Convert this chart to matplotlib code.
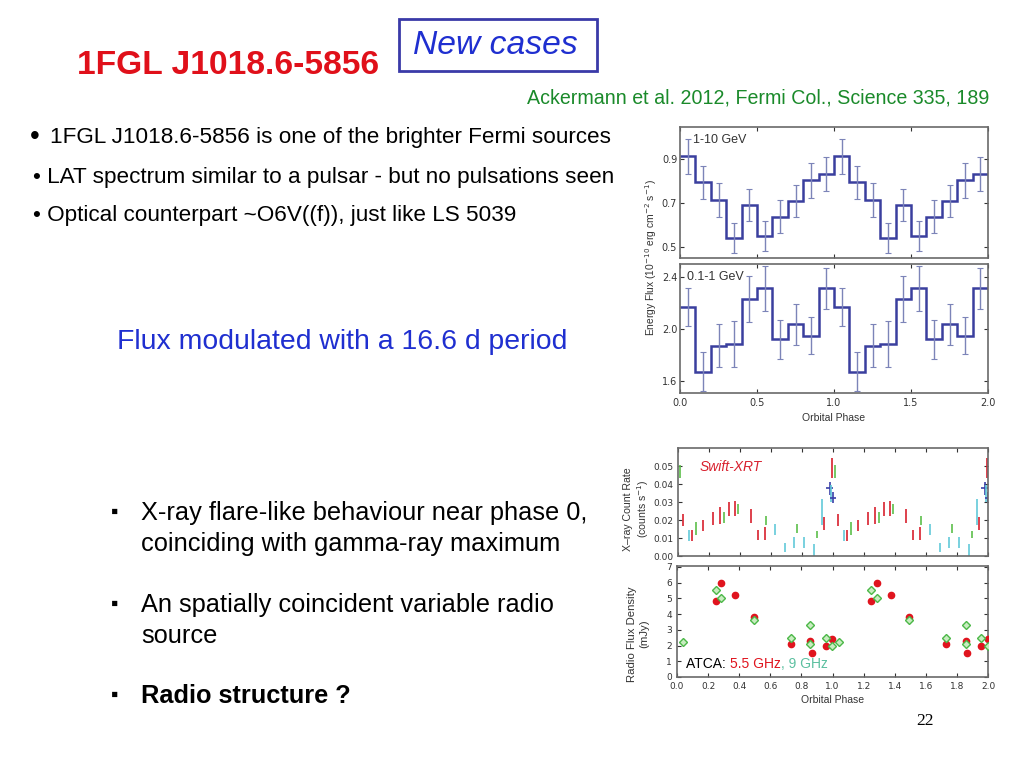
import numpy as np
import matplotlib
matplotlib.use("Agg")
import matplotlib.pyplot as plt
from matplotlib.patches import Rectangle

# Fermi-LAT folded light curves, 10 phase bins (shown twice, phase 0-2)
gev_high = [0.912, 0.793, 0.714, 0.541, 0.690, 0.551, 0.638, 0.708, 0.803, 0.832]
gev_high_err = [0.080, 0.075, 0.076, 0.070, 0.072, 0.068, 0.074, 0.074, 0.079, 0.078]
gev_low = [2.169, 1.675, 1.872, 1.885, 2.233, 2.312, 1.923, 2.036, 1.951, 2.312]
gev_low_err = [0.148, 0.146, 0.164, 0.175, 0.175, 0.169, 0.150, 0.156, 0.140, 0.157]

# Swift-XRT count rate vs phase
xrt_phase = [0.01, 0.03, 0.069, 0.09, 0.114, 0.16, 0.226, 0.271, 0.297, 0.329,
             0.366, 0.387, 0.473, 0.516, 0.563, 0.57, 0.626, 0.69, 0.748, 0.77,
             0.813, 0.877, 0.897, 0.929, 0.94, 0.978, 0.985, 0.998, 0.994]
xrt_rate = [0.047, 0.020, 0.0114, 0.0114, 0.0153, 0.0168, 0.0209, 0.0226, 0.0212, 0.0261,
            0.0265, 0.0261, 0.0222, 0.0117, 0.0126, 0.0198, 0.0149, 0.0047, 0.0076, 0.0152,
            0.0076, 0.0033, 0.0119, 0.0244, 0.0182, 0.0376, 0.0348, 0.0325, 0.0489]
xrt_err = [0.0037, 0.0035, 0.003, 0.003, 0.0037, 0.003, 0.0037, 0.0046, 0.003, 0.0038,
           0.004, 0.003, 0.0037, 0.0028, 0.0037, 0.0026, 0.003, 0.0023, 0.003, 0.0026,
           0.003, 0.0033, 0.002, 0.007, 0.0037, 0.0037, 0.0046, 0.003, 0.0057]
xrt_obs = ['g', 'r', 'c', 'r', 'g', 'r', 'r', 'r', 'g', 'r',
           'r', 'g', 'r', 'r', 'r', 'g', 'c', 'c', 'c', 'g',
           'c', 'c', 'g', 'c', 'r', 'b', 'c', 'b', 'r']

# ATCA radio flux density
r55_phase = [0.25, 0.284, 0.374, 0.495, 0.73, 0.858, 0.865, 0.955, 0.998]
r55_flux = [4.8, 6.0, 5.2, 3.8, 2.1, 2.3, 1.5, 2.0, 2.4]
r9_phase = [0.04, 0.25, 0.284, 0.495, 0.73, 0.858, 0.858, 0.955, 0.998]
r9_flux = [2.2, 5.5, 5.0, 3.6, 2.5, 3.3, 2.1, 2.5, 2.0]

obs_colors = {'r': '#d8202e', 'g': '#5cbf4a', 'c': '#62c9d9', 'b': '#3a3fa8'}

W, H = 1024, 768
fig = plt.figure(figsize=(W / 100, H / 100), dpi=100)
fig.patch.set_facecolor('white')


def px(x, y):
    return x / W, 1 - y / H


def box(x0, y0, x1, y1):
    return [x0 / W, 1 - y1 / H, (x1 - x0) / W, (y1 - y0) / H]


sans = ['Liberation Sans', 'DejaVu Sans']

# ---- slide text ----
fig.text(*px(77, 66), '1FGL J1018.6-5856', color='#e0101a', fontsize=24.2,
         fontweight='bold', family=sans, va='center')
fig.add_artist(Rectangle(px(399, 71), 198 / W, 52 / H, transform=fig.transFigure,
                         fill=False, edgecolor='#3a3aa8', linewidth=2))
fig.text(*px(413, 45), 'New cases', color='#1f2fd0', fontsize=24.2, style='italic',
         family=sans, va='center')
fig.text(*px(527, 98), 'Ackermann et al. 2012, Fermi Col., Science 335, 189',
         color='#1a8a2a', fontsize=14.1, family=sans, va='center')

fig.text(*px(30, 137), '\u2022', fontsize=20, family=sans, va='center')
fig.text(*px(50, 138), '1FGL J1018.6-5856 is one of the brighter Fermi sources',
         fontsize=16.2, family=sans, va='center')
fig.text(*px(33, 178), '\u2022 LAT spectrum similar to a pulsar - but no pulsations seen',
         fontsize=16.2, family=sans, va='center')
fig.text(*px(33, 215), '\u2022 Optical counterpart ~O6V((f)), just like LS 5039',
         fontsize=16.2, family=sans, va='center')

fig.text(*px(117, 342), 'Flux modulated with a 16.6 d period', color='#1f2fd0',
         fontsize=20.4, family=sans, va='center')

bullets = [(513, 'X-ray flare-like behaviour near phase 0,', 'normal'),
           (544, 'coinciding with gamma-ray maximum', None),
           (605, 'An spatially coincident variable radio', 'normal'),
           (636, 'source', None),
           (696, 'Radio structure ?', 'bold')]
for y, line, weight in bullets:
    if weight is not None:
        fig.text(*px(111, y - 1), '\u25aa', fontsize=15, family=sans, va='center')
    fig.text(*px(141, y), line, fontsize=18.3, family=sans, va='center',
             fontweight='bold' if weight == 'bold' else 'normal')

fig.text(*px(916, 721), '22', fontsize=12.5, family=['Liberation Serif', 'DejaVu Serif'],
         va='center')

# ---- Fermi panels ----
frame = '#6a6a6a'
step = '#3a3f9e'
bar = '#7c84b8'


def style_axes(ax):
    for s in ax.spines.values():
        s.set_color(frame)
        s.set_linewidth(1.2)
    ax.tick_params(direction='in', top=True, right=True, labelsize=7,
                   colors='#333333', length=3, width=0.8)


edges = np.linspace(0, 2, 21)
centers = (edges[:-1] + edges[1:]) / 2

ax1 = fig.add_axes(box(680, 127, 988, 258))
ax1.stairs(gev_high * 2, edges, baseline=None, color=step, linewidth=1.8)
ax1.errorbar(centers, gev_high * 2, yerr=gev_high_err * 2, fmt='none',
             ecolor=bar, elinewidth=1.0, capsize=2.5, capthick=0.8)
ax1.set_xlim(0, 2)
ax1.set_ylim(0.45, 1.045)
ax1.set_yticks([0.5, 0.7, 0.9])
ax1.set_xticks([0, 0.5, 1.0, 1.5, 2.0])
ax1.set_xticklabels([])
ax1.text(0.042, 0.9, '1-10 GeV', transform=ax1.transAxes, fontsize=9,
         family=sans, va='center', color='#333333')
style_axes(ax1)
ax1.tick_params(axis='y', pad=2)

ax2 = fig.add_axes(box(680, 264, 988, 393))
ax2.stairs(gev_low * 2, edges, baseline=None, color=step, linewidth=1.8)
ax2.errorbar(centers, gev_low * 2, yerr=gev_low_err * 2, fmt='none',
             ecolor=bar, elinewidth=1.0, capsize=2.5, capthick=0.8)
ax2.set_xlim(0, 2)
ax2.set_ylim(1.51, 2.5)
ax2.set_yticks([1.6, 2.0, 2.4])
ax2.set_xticks([0, 0.5, 1.0, 1.5, 2.0])
ax2.set_xlabel('Orbital Phase', fontsize=7.5, family=sans, color='#333333', labelpad=4)
ax2.text(0.023, 0.9, '0.1-1 GeV', transform=ax2.transAxes, fontsize=9,
         family=sans, va='center', color='#333333')
style_axes(ax2)
ax2.tick_params(axis='y', pad=2)
fig.text(*px(651, 258), 'Energy Flux (10$^{-10}$ erg cm$^{-2}$ s$^{-1}$)', rotation=90,
         fontsize=7.4, family=sans, ha='center', va='center', color='#333333')

# ---- Swift-XRT panel ----
ax3 = fig.add_axes(box(678, 448, 988, 556))
for k in range(2):
    for p, v, e, c in zip(xrt_phase, xrt_rate, xrt_err, xrt_obs):
        xe = 0.02 if c == 'b' else None
        ax3.errorbar(p + k, v, yerr=e, xerr=xe, fmt='none',
                     ecolor=obs_colors[c], elinewidth=1.2)
ax3.set_xlim(0, 2)
ax3.set_ylim(0, 0.06)
ax3.set_yticks(np.arange(0, 0.051, 0.01))
ax3.set_yticklabels(['0.00', '0.01', '0.02', '0.03', '0.04', '0.05'])
ax3.set_xticks(np.arange(0, 2.01, 0.2))
ax3.set_xticklabels([])
fig.text(*px(637, 509), 'X\u2013ray Count Rate\n(counts s$^{-1}$)', rotation=90,
         fontsize=7.6, family=sans, color='#333333', ha='center', va='center',
         multialignment='center')
ax3.text(0.07, 0.82, 'Swift-XRT', transform=ax3.transAxes, fontsize=10,
         style='italic', color='#d8202e', family=sans, va='center')
style_axes(ax3)
ax3.tick_params(labelsize=6.5)

# ---- ATCA panel ----
ax4 = fig.add_axes(box(677, 566, 988, 677))
for k in range(2):
    ax4.plot([p + k for p in r55_phase], r55_flux, 'o', color='#e0141e',
             markersize=4.5, zorder=3)
    ax4.errorbar([p + k for p in r9_phase], r9_flux, yerr=0.12, fmt='D',
                 color='#4cb848', mfc='#c8ecc0', mec='#4cb848', markersize=3.8,
                 elinewidth=0.8, zorder=4)
ax4.set_xlim(0, 2)
ax4.set_ylim(0, 7.05)
ax4.set_yticks(range(8))
ax4.set_xticks(np.arange(0, 2.01, 0.2))
ax4.set_xticklabels(['%.1f' % t for t in np.arange(0, 2.01, 0.2)])
ax4.set_xlabel('Orbital Phase', fontsize=7.5, family=sans, color='#333333', labelpad=3)
fig.text(*px(638, 634), 'Radio Flux Density\n(mJy)', rotation=90,
         fontsize=8.2, family=sans, color='#333333', ha='center', va='center',
         multialignment='center')
style_axes(ax4)
ax4.tick_params(labelsize=6.5)
t = ax4.text(0.03, 0.12, 'ATCA: ', transform=ax4.transAxes, fontsize=10,
             family=sans, color='black', va='center')
t = ax4.annotate('5.5 GHz', xycoords=t, xy=(1, 0), va='bottom', fontsize=10,
                 family=sans, color='#e0141e')
ax4.annotate(', 9 GHz', xycoords=t, xy=(1, 0), va='bottom', fontsize=10,
             family=sans, color='#5cc0a0')

fig.savefig('out.png', dpi=100)
